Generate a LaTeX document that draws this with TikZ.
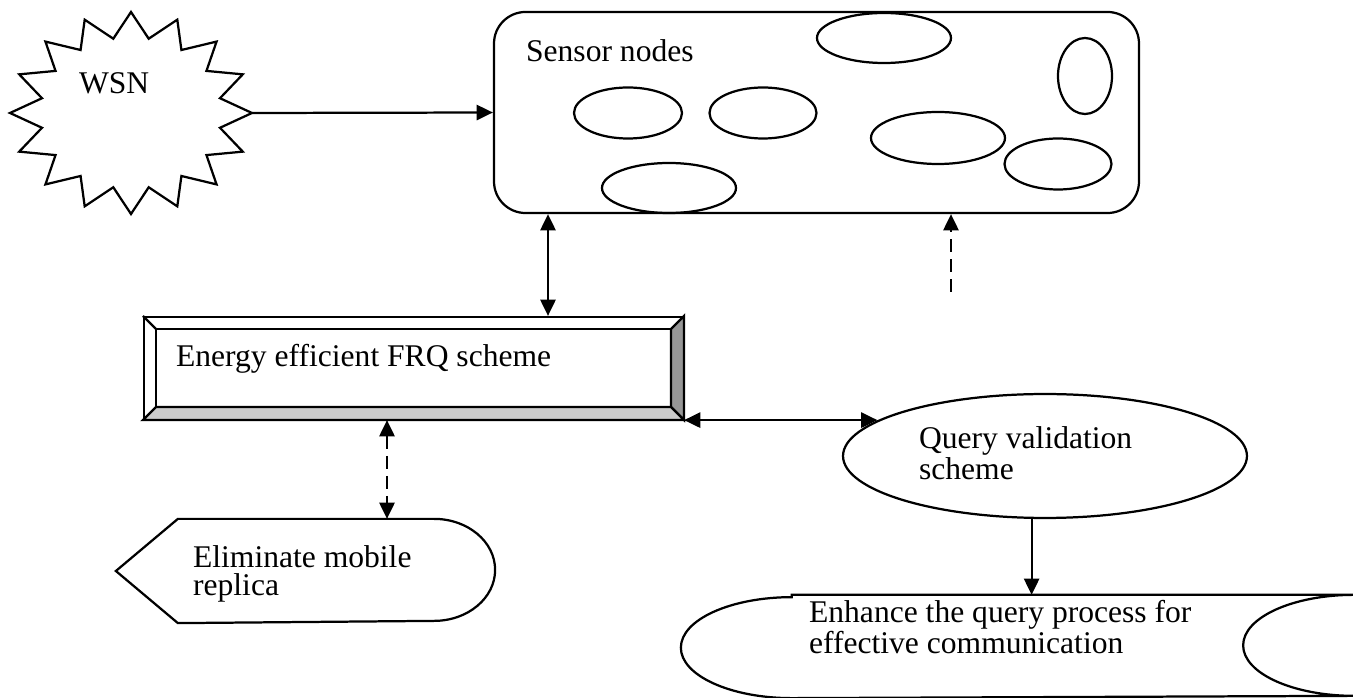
\documentclass[tikz,border=0pt]{standalone}
\usepackage{fontspec}
\setmainfont{Liberation Serif}
\usepackage{xcolor}
\usepackage{tikz}
\usetikzlibrary{arrows.meta, shapes.geometric, calc}

\definecolor{bevelDark}{gray}{0.59}
\definecolor{bevelLight}{gray}{0.80}

\begin{document}
\begin{tikzpicture}[x=0.38pt, y=-0.38pt, line width=0.85pt,
    every node/.style={inner sep=0pt},
    txt/.style={anchor=base west, align=left, font=\fontsize{12}{10.8}\selectfont},
    onearrow/.style={-{Triangle[length=6.2pt,width=5.8pt]}},
    twoarrow/.style={{Triangle[length=6.2pt,width=5.8pt]}-{Triangle[length=6.2pt,width=5.8pt]}},
    broken/.style={dash pattern=on 4.8pt off 2.8pt}]

    \useasboundingbox (0,0) rectangle (1353,698);

    % WSN
    \draw plot[samples at={0,...,31}, variable=\k]
        ({131+121*(mod(\k,2)==0 ? 1 : 0.75)*sin(\k*11.25)},
         {113-101*(mod(\k,2)==0 ? 1 : 0.75)*cos(\k*11.25)}) -- cycle;
    \coordinate (wsnr) at (252,113);
    \node[txt] (wsn) at (78,94) {WSN};

    % Sensor nodes
    \node[draw, rounded corners=12pt, minimum width=245.1pt, minimum height=76.4pt] (sensor) at (816.5,112.5) {};
    \node[txt] (sensorlbl) at (525,62) {Sensor nodes};
    \foreach \cx/\cy/\rx/\ry in {884/38/67/25, 1085/76/27/38, 628/113/54/25.5, 763/113/53.5/25.5,
                                 938/138/67/26, 1058/164/53.5/25.5, 669/188/67/25}
        \draw (\cx,\cy) ellipse [x radius=\rx, y radius=\ry];

    % FRQ scheme
    \node[draw, minimum width=204.8pt, minimum height=38.76pt] (frq) at (413.5,368) {};
    \filldraw[fill=bevelDark] (frq.north east) -- (frq.south east) -- ($(frq.south east)+(-13,-13)$)
        -- ($(frq.north east)+(-13,13)$) -- cycle;
    \filldraw[fill=bevelLight] (frq.south west) -- (frq.south east) -- ($(frq.south east)+(-13,-13)$)
        -- ($(frq.south west)+(13,-13)$) -- cycle;
    \draw ($(frq.north west)+(13,13)$) rectangle ($(frq.south east)+(-13,-13)$);
    \draw (frq.north west) -- ++(13,13);
    \node[txt] (frqlbl) at (175,367) {Energy efficient FRQ scheme};

    % Query validation
    \node[draw, ellipse, minimum width=153.5pt, minimum height=47.1pt] (query) at (1045,456) {};
    \node[txt] (querylbl) at (918,480) {Query validation\\scheme};

    % Eliminate mobile replica
    \node[minimum width=143.26pt, minimum height=38.76pt] (elim) at (305.5,571) {};
    \draw (elim.west) -- ($(elim.north west)+(62,0)$) -- ($(elim.north east)+(-61,0)$)
        arc[start angle=270, end angle=450, x radius=61, y radius=51]
        -- ($(elim.south west)+(62,0)$) -- cycle;
    \node[txt] (elimlbl) at (192,596) {Eliminate mobile\\replica};

    % Enhance the query process
    \node[minimum width=255pt, minimum height=38.4pt] (enh) at (1017.5,646.5) {};
    \draw ($(enh.north west)+(111,0)$) -- (enh.north east)
        arc[start angle=270, end angle=90, x radius=111, y radius=50.5]
        -- ($(enh.south west)+(111,0)$)
        arc[start angle=90, end angle=270, x radius=111, y radius=50.5] -- cycle;
    \node[txt] (enhlbl) at (808,654) {Enhance the query process for\\effective communication};

    % Arrows
    \draw[onearrow] (wsnr) -- (sensor.west);
    \coordinate (frqtop) at ($(frq.north)+(134.5,0)$);
    \draw[twoarrow] (frqtop) -- (frqtop |- sensor.south);
    \coordinate (dfree) at (951,292);
    \draw[onearrow, broken] (dfree) -- (dfree |- sensor.south);
    \draw[twoarrow] (frq.south east) -- (frq.south east -| query.168);
    \coordinate (frqbot) at ($(frq.south)+(-26.5,0)$);
    \draw[twoarrow, broken] (frqbot) -- (frqbot |- elim.north);
    \draw[onearrow] (query.258) -- (query.258 |- enh.north);
\end{tikzpicture}
\end{document}
